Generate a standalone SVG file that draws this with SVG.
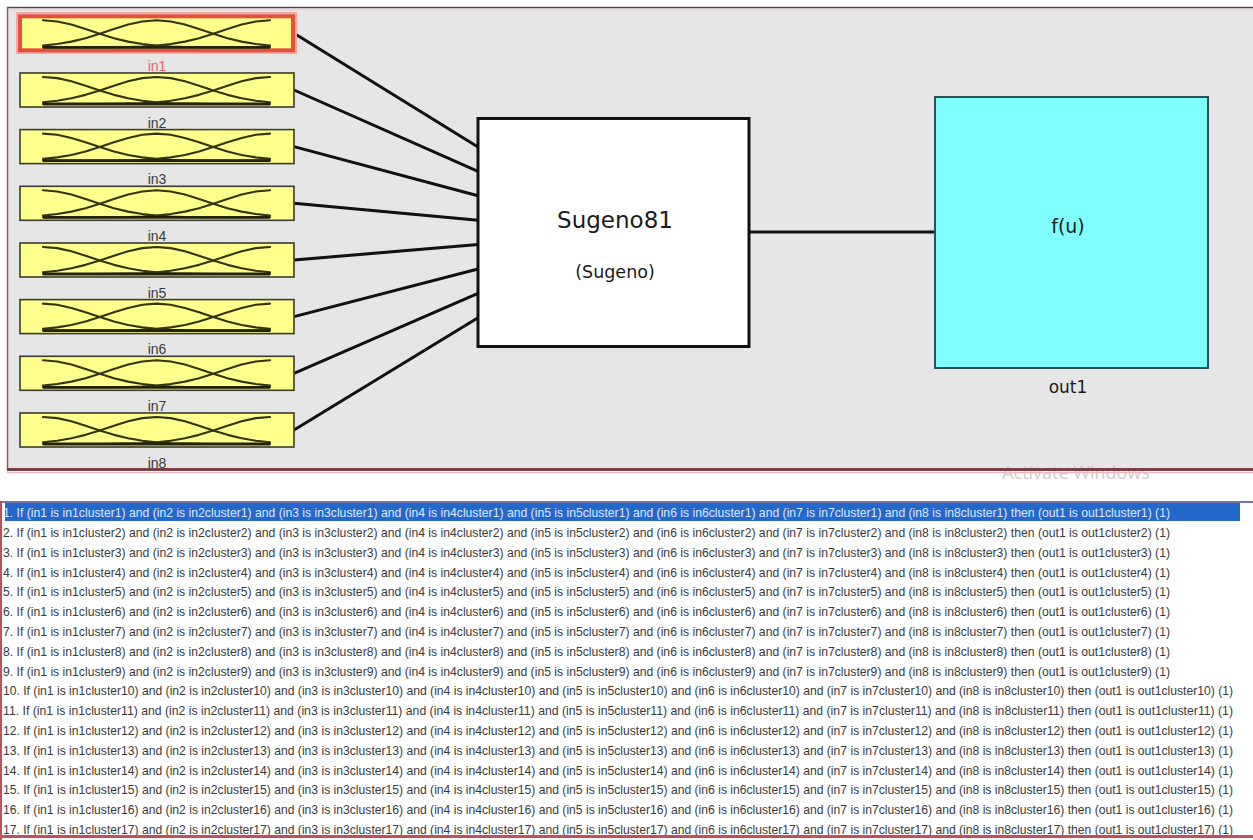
<svg xmlns="http://www.w3.org/2000/svg" xmlns:xlink="http://www.w3.org/1999/xlink" width="1253" height="840" viewBox="0 0 1253 840">
  <style>
    .mfbox { fill: #ffff8c; stroke: #3a3a30; stroke-width: 1.6; }
    .mf { fill: none; stroke: #34340e; stroke-width: 2.1; stroke-linejoin: round; stroke-linecap: round; }
    .inlbl { font-family: "Liberation Sans", Arial, sans-serif; font-size: 14px; fill: #3a3a3a; text-anchor: middle; }
    .wire { stroke: #111; stroke-width: 3; fill: none; }
    .big { font-family: "DejaVu Sans", Verdana, sans-serif; fill: #1a1a1a; text-anchor: middle; }
    .rule { font-family: "Liberation Sans", Arial, sans-serif; font-size: 12.2px; fill: #3a3a3a; }
    .rule.sel { fill: #dfe9ff; }
  </style>
  <defs>
    <!-- three gaussian membership curves, local to a 34px high input box -->
    <g id="mfset">
      <polyline class="mf" points="43,4 57.19,5.14 71.38,8.3 85.56,12.72 99.75,17.5 113.94,21.86 128.13,25.33 142.31,27.77 156.5,29.31 170.69,30.19 184.88,30.65 199.06,30.86 213.25,30.95 227.44,31 241.63,31 255.81,31 270,31"/>
      <polyline class="mf" points="43,29.31 57.19,27.77 71.38,25.33 85.56,21.86 99.75,17.5 113.94,12.72 128.13,8.3 142.31,5.14 156.5,4 170.69,5.14 184.88,8.3 199.06,12.72 213.25,17.5 227.44,21.86 241.63,25.33 255.81,27.77 270,29.31"/>
      <polyline class="mf" points="43,31 57.19,31 71.38,31 85.56,31 99.75,30.95 113.94,30.86 128.13,30.65 142.31,30.19 156.5,29.31 170.69,27.77 184.88,25.33 199.06,21.86 213.25,17.5 227.44,12.72 241.63,8.3 255.81,5.14 270,4"/>
      <line x1="43" y1="31" x2="270" y2="31" stroke="#22220a" stroke-width="2.8"/>
    </g>
  </defs>

  <rect width="1253" height="840" fill="#ffffff"/>

  <!-- FIS editor panel -->
  <g id="fis-panel">
    <rect x="7" y="7" width="1246" height="463" fill="#e6e6e6"/>
    <line x1="7" y1="7.5" x2="1253" y2="7.5" stroke="#5a4448" stroke-width="1.5"/>
    <line x1="7" y1="9.5" x2="1253" y2="9.5" stroke="#f2d6d6" stroke-width="1.5"/>
    <line x1="7.5" y1="7" x2="7.5" y2="470" stroke="#8a6064" stroke-width="1.5"/>
    <text x="1076" y="479" font-family="Open Sans, Liberation Sans, sans-serif" font-size="18" fill="#d4cccc" text-anchor="middle">Activate Windows</text>
    <line x1="7" y1="469.5" x2="1253" y2="469.5" stroke="#7a4048" stroke-width="3"/>
    <line x1="7" y1="472.5" x2="1253" y2="472.5" stroke="#e8b8bc" stroke-width="1.5"/>
  </g>

  <!-- connectors -->
  <g id="connectors">
    <line class="wire" x1="294" y1="33.3" x2="478" y2="147"/>
    <line class="wire" x1="294" y1="90" x2="478" y2="171.4"/>
    <line class="wire" x1="294" y1="146.6" x2="478" y2="195.8"/>
    <line class="wire" x1="294" y1="203.3" x2="478" y2="220.2"/>
    <line class="wire" x1="294" y1="260" x2="478" y2="244.6"/>
    <line class="wire" x1="294" y1="316.6" x2="478" y2="269"/>
    <line class="wire" x1="294" y1="373.3" x2="478" y2="293.4"/>
    <line class="wire" x1="294" y1="430" x2="478" y2="317.8"/>
    <line class="wire" x1="749" y1="232" x2="935" y2="232"/>
  </g>

  <!-- inputs -->
  <g id="in1">
    <rect x="17" y="13" width="279" height="40" fill="none" stroke="#f4a8a8" stroke-width="2"/>
    <rect x="20" y="16.3" width="273" height="34" fill="#ffff8c" stroke="#e4503c" stroke-width="4"/>
    <use xlink:href="#mfset" y="16.3"/>
    <text class="inlbl" x="157" y="71" style="fill:#e06474">in1</text>
  </g>
  <g id="in2">
    <rect class="mfbox" x="20" y="73" width="274" height="34"/>
    <use xlink:href="#mfset" y="73"/>
    <text class="inlbl" x="157" y="127.5">in2</text>
  </g>
  <g id="in3">
    <rect class="mfbox" x="20" y="129.6" width="274" height="34"/>
    <use xlink:href="#mfset" y="129.6"/>
    <text class="inlbl" x="157" y="184.2">in3</text>
  </g>
  <g id="in4">
    <rect class="mfbox" x="20" y="186.3" width="274" height="34"/>
    <use xlink:href="#mfset" y="186.3"/>
    <text class="inlbl" x="157" y="240.9">in4</text>
  </g>
  <g id="in5">
    <rect class="mfbox" x="20" y="243" width="274" height="34"/>
    <use xlink:href="#mfset" y="243"/>
    <text class="inlbl" x="157" y="297.5">in5</text>
  </g>
  <g id="in6">
    <rect class="mfbox" x="20" y="299.6" width="274" height="34"/>
    <use xlink:href="#mfset" y="299.6"/>
    <text class="inlbl" x="157" y="354.2">in6</text>
  </g>
  <g id="in7">
    <rect class="mfbox" x="20" y="356.3" width="274" height="34"/>
    <use xlink:href="#mfset" y="356.3"/>
    <text class="inlbl" x="157" y="410.9">in7</text>
  </g>
  <g id="in8">
    <rect class="mfbox" x="20" y="413" width="274" height="34"/>
    <use xlink:href="#mfset" y="413"/>
    <text class="inlbl" x="157" y="467.5">in8</text>
  </g>

  <!-- inference system -->
  <g id="sugeno81">
    <rect x="478" y="118.5" width="271" height="228" fill="#ffffff" stroke="#111" stroke-width="3"/>
    <text class="big" x="615" y="228" font-size="23">Sugeno81</text>
    <text class="big" x="615" y="278" font-size="17.5">(Sugeno)</text>
  </g>

  <!-- output -->
  <g id="out1">
    <rect x="935" y="97" width="273" height="271" fill="#80ffff" stroke="#2a5252" stroke-width="2"/>
    <text class="big" x="1068" y="233" font-size="19">f(u)</text>
    <text class="big" x="1068" y="393" font-size="17">out1</text>
  </g>

  <!-- rule list -->
  <g id="rules">
    <rect x="5" y="503" width="1235" height="18" fill="#2468cc"/>
    <text class="rule sel" x="3" y="517" textLength="1167" lengthAdjust="spacingAndGlyphs">1. If (in1 is in1cluster1) and (in2 is in2cluster1) and (in3 is in3cluster1) and (in4 is in4cluster1) and (in5 is in5cluster1) and (in6 is in6cluster1) and (in7 is in7cluster1) and (in8 is in8cluster1) then (out1 is out1cluster1) (1)</text>
    <text class="rule" x="3" y="537" textLength="1167" lengthAdjust="spacingAndGlyphs">2. If (in1 is in1cluster2) and (in2 is in2cluster2) and (in3 is in3cluster2) and (in4 is in4cluster2) and (in5 is in5cluster2) and (in6 is in6cluster2) and (in7 is in7cluster2) and (in8 is in8cluster2) then (out1 is out1cluster2) (1)</text>
    <text class="rule" x="3" y="556.8" textLength="1167" lengthAdjust="spacingAndGlyphs">3. If (in1 is in1cluster3) and (in2 is in2cluster3) and (in3 is in3cluster3) and (in4 is in4cluster3) and (in5 is in5cluster3) and (in6 is in6cluster3) and (in7 is in7cluster3) and (in8 is in8cluster3) then (out1 is out1cluster3) (1)</text>
    <text class="rule" x="3" y="576.6" textLength="1167" lengthAdjust="spacingAndGlyphs">4. If (in1 is in1cluster4) and (in2 is in2cluster4) and (in3 is in3cluster4) and (in4 is in4cluster4) and (in5 is in5cluster4) and (in6 is in6cluster4) and (in7 is in7cluster4) and (in8 is in8cluster4) then (out1 is out1cluster4) (1)</text>
    <text class="rule" x="3" y="596.4" textLength="1167" lengthAdjust="spacingAndGlyphs">5. If (in1 is in1cluster5) and (in2 is in2cluster5) and (in3 is in3cluster5) and (in4 is in4cluster5) and (in5 is in5cluster5) and (in6 is in6cluster5) and (in7 is in7cluster5) and (in8 is in8cluster5) then (out1 is out1cluster5) (1)</text>
    <text class="rule" x="3" y="616.2" textLength="1167" lengthAdjust="spacingAndGlyphs">6. If (in1 is in1cluster6) and (in2 is in2cluster6) and (in3 is in3cluster6) and (in4 is in4cluster6) and (in5 is in5cluster6) and (in6 is in6cluster6) and (in7 is in7cluster6) and (in8 is in8cluster6) then (out1 is out1cluster6) (1)</text>
    <text class="rule" x="3" y="636" textLength="1167" lengthAdjust="spacingAndGlyphs">7. If (in1 is in1cluster7) and (in2 is in2cluster7) and (in3 is in3cluster7) and (in4 is in4cluster7) and (in5 is in5cluster7) and (in6 is in6cluster7) and (in7 is in7cluster7) and (in8 is in8cluster7) then (out1 is out1cluster7) (1)</text>
    <text class="rule" x="3" y="655.8" textLength="1167" lengthAdjust="spacingAndGlyphs">8. If (in1 is in1cluster8) and (in2 is in2cluster8) and (in3 is in3cluster8) and (in4 is in4cluster8) and (in5 is in5cluster8) and (in6 is in6cluster8) and (in7 is in7cluster8) and (in8 is in8cluster8) then (out1 is out1cluster8) (1)</text>
    <text class="rule" x="3" y="675.6" textLength="1167" lengthAdjust="spacingAndGlyphs">9. If (in1 is in1cluster9) and (in2 is in2cluster9) and (in3 is in3cluster9) and (in4 is in4cluster9) and (in5 is in5cluster9) and (in6 is in6cluster9) and (in7 is in7cluster9) and (in8 is in8cluster9) then (out1 is out1cluster9) (1)</text>
    <text class="rule" x="3" y="695.4" textLength="1230" lengthAdjust="spacingAndGlyphs">10. If (in1 is in1cluster10) and (in2 is in2cluster10) and (in3 is in3cluster10) and (in4 is in4cluster10) and (in5 is in5cluster10) and (in6 is in6cluster10) and (in7 is in7cluster10) and (in8 is in8cluster10) then (out1 is out1cluster10) (1)</text>
    <text class="rule" x="3" y="715.2" textLength="1230" lengthAdjust="spacingAndGlyphs">11. If (in1 is in1cluster11) and (in2 is in2cluster11) and (in3 is in3cluster11) and (in4 is in4cluster11) and (in5 is in5cluster11) and (in6 is in6cluster11) and (in7 is in7cluster11) and (in8 is in8cluster11) then (out1 is out1cluster11) (1)</text>
    <text class="rule" x="3" y="735" textLength="1230" lengthAdjust="spacingAndGlyphs">12. If (in1 is in1cluster12) and (in2 is in2cluster12) and (in3 is in3cluster12) and (in4 is in4cluster12) and (in5 is in5cluster12) and (in6 is in6cluster12) and (in7 is in7cluster12) and (in8 is in8cluster12) then (out1 is out1cluster12) (1)</text>
    <text class="rule" x="3" y="754.8" textLength="1230" lengthAdjust="spacingAndGlyphs">13. If (in1 is in1cluster13) and (in2 is in2cluster13) and (in3 is in3cluster13) and (in4 is in4cluster13) and (in5 is in5cluster13) and (in6 is in6cluster13) and (in7 is in7cluster13) and (in8 is in8cluster13) then (out1 is out1cluster13) (1)</text>
    <text class="rule" x="3" y="774.6" textLength="1230" lengthAdjust="spacingAndGlyphs">14. If (in1 is in1cluster14) and (in2 is in2cluster14) and (in3 is in3cluster14) and (in4 is in4cluster14) and (in5 is in5cluster14) and (in6 is in6cluster14) and (in7 is in7cluster14) and (in8 is in8cluster14) then (out1 is out1cluster14) (1)</text>
    <text class="rule" x="3" y="794.4" textLength="1230" lengthAdjust="spacingAndGlyphs">15. If (in1 is in1cluster15) and (in2 is in2cluster15) and (in3 is in3cluster15) and (in4 is in4cluster15) and (in5 is in5cluster15) and (in6 is in6cluster15) and (in7 is in7cluster15) and (in8 is in8cluster15) then (out1 is out1cluster15) (1)</text>
    <text class="rule" x="3" y="814.2" textLength="1230" lengthAdjust="spacingAndGlyphs">16. If (in1 is in1cluster16) and (in2 is in2cluster16) and (in3 is in3cluster16) and (in4 is in4cluster16) and (in5 is in5cluster16) and (in6 is in6cluster16) and (in7 is in7cluster16) and (in8 is in8cluster16) then (out1 is out1cluster16) (1)</text>
    <text class="rule" x="3" y="834" textLength="1230" lengthAdjust="spacingAndGlyphs">17. If (in1 is in1cluster17) and (in2 is in2cluster17) and (in3 is in3cluster17) and (in4 is in4cluster17) and (in5 is in5cluster17) and (in6 is in6cluster17) and (in7 is in7cluster17) and (in8 is in8cluster17) then (out1 is out1cluster17) (1)</text>
    <line x1="1" y1="502" x2="1253" y2="502" stroke="#4a4a8a" stroke-width="1.5"/>
    <line x1="1" y1="501" x2="1" y2="840" stroke="#c0505a" stroke-width="2"/>
    <line x1="0" y1="836.5" x2="1253" y2="836.5" stroke="#c2505a" stroke-width="3"/>
  </g>
</svg>
